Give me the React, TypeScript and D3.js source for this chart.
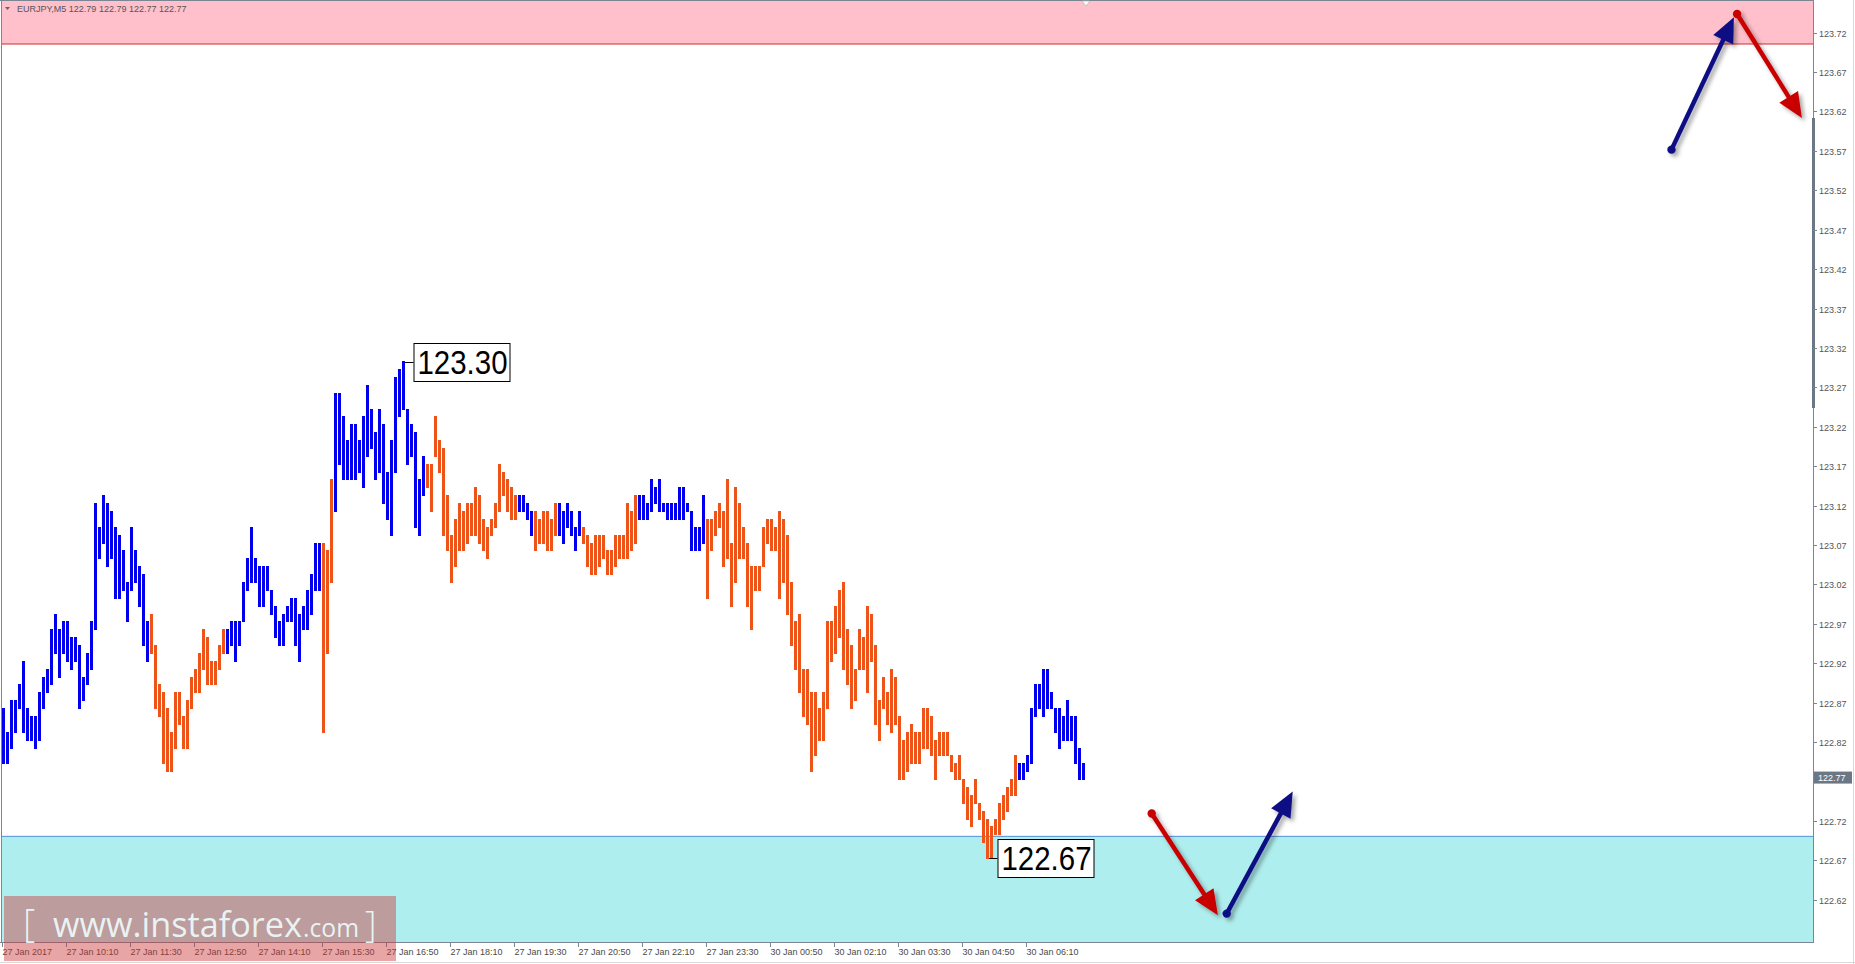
import React from 'react';
import * as d3 from 'd3';

const W = 1855;
const H = 964;

// ---- data (EURJPY M5, high / low per bar) ----
const highs = [
  122.86,122.83,122.87,122.87,122.89,122.92,122.86,122.85,122.85,122.88,
  122.90,122.91,122.96,122.98,122.96,122.97,122.97,122.95,122.95,122.94,
  122.90,122.93,122.97,123.12,123.09,123.13,123.12,123.11,123.09,123.08,
  123.06,123.02,123.09,123.06,123.04,123.03,122.97,122.98,122.94,122.89,
  122.88,122.86,122.83,122.88,122.88,122.85,122.87,122.90,122.91,122.93,
  122.96,122.95,122.92,122.92,122.94,122.96,122.96,122.97,122.97,122.97,
  123.02,123.05,123.09,123.05,123.04,123.04,123.04,123.01,122.99,122.97,
  122.98,122.99,123.00,123.00,122.98,122.99,123.01,123.03,123.07,123.07,
  123.07,123.06,123.15,123.26,123.26,123.23,123.20,123.22,123.22,123.20,
  123.23,123.27,123.24,123.21,123.24,123.22,123.16,123.20,123.28,123.29,
  123.30,123.24,123.22,123.21,123.15,123.18,123.17,123.17,123.23,123.20,
  123.19,123.13,123.08,123.10,123.12,123.11,123.12,123.12,123.14,123.13,
  123.10,123.09,123.10,123.12,123.17,123.16,123.15,123.14,123.13,123.13,
  123.13,123.12,123.11,123.11,123.10,123.11,123.11,123.10,123.12,123.12,
  123.11,123.12,123.11,123.09,123.11,123.09,123.08,123.07,123.08,123.08,
  123.08,123.06,123.06,123.08,123.08,123.08,123.12,123.11,123.13,123.13,
  123.13,123.12,123.15,123.14,123.15,123.12,123.12,123.12,123.12,123.14,
  123.14,123.12,123.11,123.09,123.09,123.13,123.10,123.10,123.11,123.12,
  123.11,123.15,123.07,123.14,123.12,123.09,123.07,123.04,123.04,123.04,
  123.09,123.10,123.10,123.09,123.11,123.10,123.08,123.02,122.97,122.98,
  122.91,122.91,122.88,122.88,122.86,122.88,122.97,122.97,122.99,123.01,
  123.02,122.96,122.94,122.91,122.96,122.95,122.99,122.98,122.94,122.87,
  122.90,122.88,122.91,122.90,122.85,122.82,122.83,122.84,122.83,122.83,
  122.86,122.86,122.85,122.82,122.83,122.83,122.83,122.80,122.79,122.80,
  122.77,122.76,122.75,122.77,122.74,122.73,122.72,122.71,122.72,122.74,
  122.75,122.76,122.77,122.80,122.79,122.79,122.80,122.86,122.89,122.89,
  122.91,122.91,122.88,122.86,122.86,122.85,122.87,122.85,122.85,122.81,
  122.79,
];

const lows = [
  122.79,122.79,122.81,122.83,122.86,122.83,122.82,122.82,122.81,122.82,
  122.86,122.88,122.89,122.93,122.90,122.93,122.92,122.91,122.92,122.86,
  122.87,122.89,122.91,122.96,123.05,123.07,123.04,123.05,123.00,123.00,
  123.01,122.97,123.01,123.02,122.99,122.94,122.92,122.93,122.86,122.85,
  122.79,122.78,122.78,122.81,122.84,122.81,122.81,122.86,122.88,122.88,
  122.91,122.89,122.89,122.89,122.91,122.93,122.93,122.94,122.92,122.94,
  122.97,123.01,123.02,123.02,122.99,122.99,123.01,122.98,122.95,122.94,
  122.94,122.97,122.97,122.94,122.92,122.96,122.96,122.98,123.01,123.01,
  122.83,122.93,123.02,123.11,123.17,123.15,123.15,123.15,123.15,123.16,
  123.14,123.18,123.19,123.15,123.16,123.12,123.10,123.08,123.16,123.23,
  123.24,123.17,123.18,123.09,123.08,123.13,123.14,123.11,123.18,123.16,
  123.08,123.06,123.02,123.04,123.06,123.06,123.07,123.08,123.08,123.07,
  123.06,123.05,123.08,123.09,123.11,123.13,123.11,123.10,123.10,123.11,
  123.11,123.10,123.08,123.06,123.07,123.07,123.06,123.06,123.08,123.08,
  123.07,123.09,123.08,123.06,123.08,123.07,123.04,123.03,123.03,123.04,
  123.05,123.03,123.03,123.04,123.05,123.05,123.05,123.06,123.07,123.10,
  123.10,123.10,123.11,123.12,123.11,123.11,123.10,123.10,123.10,123.10,
  123.10,123.11,123.06,123.06,123.06,123.07,123.00,123.06,123.08,123.09,
  123.04,123.05,122.99,123.02,123.05,123.05,122.99,122.96,123.01,123.01,
  123.04,123.07,123.06,123.06,123.00,123.02,122.98,122.94,122.91,122.88,
  122.85,122.84,122.78,122.80,122.82,122.82,122.86,122.92,122.93,122.95,
  122.91,122.89,122.86,122.87,122.91,122.91,122.88,122.92,122.84,122.82,
  122.86,122.84,122.83,122.84,122.77,122.77,122.78,122.79,122.79,122.79,
  122.81,122.81,122.80,122.77,122.80,122.80,122.80,122.78,122.77,122.77,
  122.74,122.72,122.71,122.74,122.72,122.69,122.67,122.67,122.70,122.70,
  122.72,122.73,122.75,122.75,122.77,122.77,122.78,122.79,122.85,122.86,
  122.85,122.86,122.86,122.83,122.81,122.82,122.82,122.82,122.79,122.77,
  122.77,
];

// wave colouring: [number of bars, direction]
const waveRuns: [number, 'up' | 'down'][] = [
  [37, 'up'], [19, 'down'], [24, 'up'], [3, 'down'], [23, 'up'], [23, 'down'],
  [4, 'up'], [6, 'down'], [6, 'up'], [14, 'down'], [17, 'up'], [78, 'down'], [17, 'up'],
];

const priceTicks = [
  123.72,123.67,123.62,123.57,123.52,123.47,123.42,123.37,123.32,123.27,123.22,123.17,
  123.12,123.07,123.02,122.97,122.92,122.87,122.82,122.77,122.72,122.67,122.62,
];

const timeLabels = [
  '27 Jan 2017','27 Jan 10:10','27 Jan 11:30','27 Jan 12:50','27 Jan 14:10','27 Jan 15:30',
  '27 Jan 16:50','27 Jan 18:10','27 Jan 19:30','27 Jan 20:50','27 Jan 22:10','27 Jan 23:30',
  '30 Jan 00:50','30 Jan 02:10','30 Jan 03:30','30 Jan 04:50','30 Jan 06:10',
];
const barsPerTimeLabel = 16;

// extreme labels: [bar index, price]
const extremes: [number, number][] = [[100, 123.30], [246, 122.67]];

// zones
const resistanceZone = [123.703, 124.0];
const supportZone = [122.50, 122.698];

// forecast arrows in (bar index, price)
const arrows = [
  { from: [417.0, 123.569], to: [432.6, 123.737], color: '#0c0c84' },
  { from: [433.4, 123.741], to: [449.6, 123.609], color: '#c80000' },
  { from: [287.05, 122.727], to: [303.6, 122.598], color: '#c80000' },
  { from: [305.8, 122.600], to: [322.3, 122.755], color: '#0c0c84' },
];

const headerText = 'EURJPY,M5  122.79 122.79 122.77 122.77';
const lastPrice = 122.77;

// ---- layout ----
const plotLeft = 1;
const plotTop = 1;
const plotRight = 1813;
const plotBottom = 942;

const UP = '#0000ee';
const DOWN = '#ee5418';
const AXIS = '#7b8694';
const TXT = '#4a4a4a';
const FONT = '"Liberation Sans", Arial, sans-serif';

export default function App() {
  const x = d3.scaleLinear().domain([0, 100]).range([3.5, 403.5]);
  const y = d3.scaleLinear().domain([122.62, 123.72]).range([30.6 + 1.1 * 788.4, 30.6]);

  const colors: string[] = [];
  waveRuns.forEach(([n, d]) => {
    for (let k = 0; k < n; k++) colors.push(d === 'up' ? UP : DOWN);
  });

  const clipY = (v: number) => Math.max(plotTop, Math.min(plotBottom, v));

  const arrowEls = arrows.map((a, i) => {
    const x0 = x(a.from[0]), y0 = y(a.from[1]);
    const x1 = x(a.to[0]), y1 = y(a.to[1]);
    const dx = x1 - x0, dy = y1 - y0;
    const len = Math.hypot(dx, dy);
    const ux = dx / len, uy = dy / len;
    const hl = 25, hw = 11;
    const bx = x1 - ux * hl, by = y1 - uy * hl;
    const px = -uy, py = ux;
    const head = `${x1},${y1} ${bx + px * hw},${by + py * hw} ${bx - px * hw},${by - py * hw}`;
    return (
      <g key={i} filter="url(#shadow)">
        <line x1={x0} y1={y0} x2={bx + ux * 2} y2={by + uy * 2} stroke={a.color} strokeWidth={4.5} />
        <polygon points={head} fill={a.color} />
        <circle cx={x0} cy={y0} r={4.2} fill={a.color} />
      </g>
    );
  });

  return (
    <svg width={W} height={H} style={{ position: 'absolute', left: 0, top: 0, background: '#fff' }}>
      <defs>
        <filter id="shadow" x="-30%" y="-30%" width="160%" height="160%">
          <feDropShadow dx="3" dy="3" stdDeviation="2" floodColor="#000" floodOpacity="0.35" />
        </filter>
        <clipPath id="plot">
          <rect x={plotLeft} y={plotTop} width={plotRight - plotLeft} height={plotBottom - plotTop} />
        </clipPath>
      </defs>
      <rect x={0} y={0} width={W} height={H} fill="#fff" />

      {/* zones */}
      <g clipPath="url(#plot)">
        <rect x={plotLeft} y={clipY(y(resistanceZone[1]))} width={plotRight - plotLeft}
          height={clipY(y(resistanceZone[0])) - clipY(y(resistanceZone[1]))} fill="#ffc0cb" />
        <line x1={plotLeft} x2={plotRight} y1={y(resistanceZone[0])} y2={y(resistanceZone[0])} stroke="#d42a2a" strokeWidth={1} />
        <rect x={plotLeft} y={clipY(y(supportZone[1]))} width={plotRight - plotLeft}
          height={clipY(y(supportZone[0])) - clipY(y(supportZone[1]))} fill="#afeeee" />
        <line x1={plotLeft} x2={plotRight} y1={y(supportZone[1])} y2={y(supportZone[1])} stroke="#4f8fd8" strokeWidth={1} />
      </g>

      {/* chart frame */}
      <line x1={plotLeft + 0.5} x2={plotLeft + 0.5} y1={0} y2={plotBottom} stroke={AXIS} />
      <line x1={0} x2={plotRight} y1={0.5} y2={0.5} stroke={AXIS} />
      <line x1={plotRight + 0.5} x2={plotRight + 0.5} y1={0} y2={plotBottom + 1} stroke={AXIS} />
      <line x1={0} x2={plotRight} y1={plotBottom + 0.5} y2={plotBottom + 0.5} stroke={AXIS} />
      <rect x={plotRight - 1} y={118} width={3} height={290} fill="#6c7886" />

      {/* header */}
      <polygon points="5,7 10,7 7.5,10" fill="#666" />
      <text x={17} y={9} fontFamily={FONT} fontSize={9} fill="#555" dominantBaseline="central">{headerText}</text>
      <polygon points="1082,1 1090,1 1086,6" fill="#fff" stroke="#b0b0b0" strokeWidth={0.7} />

      {/* bars */}
      <g shapeRendering="crispEdges">
        {highs.map((h, i) => (
          <rect key={i} x={x(i) - 1.5} y={y(h) - 0.5} width={3} height={y(lows[i]) - y(h) + 1} fill={colors[i]} />
        ))}
      </g>

      {/* extreme labels */}
      {extremes.map(([idx, p], i) => {
        const bx = x(idx) + 10;
        const cy = y(p);
        return (
          <g key={i}>
            <line x1={x(idx) + 1.5} x2={bx} y1={Math.round(cy) + 0.5} y2={Math.round(cy) + 0.5} stroke="#000" />
            <rect x={bx + 0.5} y={Math.round(cy) - 18.5} width={96} height={38} fill="#fff" stroke="#000" />
            <text x={bx + 49} y={Math.round(cy) + 12} fontFamily={FONT} fontSize={33} textAnchor="middle"
              textLength={90} lengthAdjust="spacingAndGlyphs" fill="#000">{p.toFixed(2)}</text>
          </g>
        );
      })}

      {/* arrows */}
      {arrowEls}

      {/* right price axis */}
      {priceTicks.map((p) => (
        <g key={p}>
          <line x1={plotRight} x2={plotRight + 4} y1={Math.round(y(p)) + 2.5} y2={Math.round(y(p)) + 2.5} stroke={AXIS} />
          {p !== lastPrice && (
            <text x={plotRight + 6} y={y(p) + 3} fontFamily={FONT} fontSize={9} fill="#555" dominantBaseline="central">{p.toFixed(2)}</text>
          )}
        </g>
      ))}
      <rect x={plotRight + 1} y={y(lastPrice) - 8} width={38} height={12} fill="#6b7785" />
      <text x={plotRight + 5} y={y(lastPrice) - 2} fontFamily={FONT} fontSize={9} fill="#fff" dominantBaseline="central">{lastPrice.toFixed(2)}</text>

      {/* time axis */}
      {timeLabels.map((t, i) => {
        const tx = Math.round(x(i * barsPerTimeLabel) - 1.5) + 0.5;
        return (
          <g key={t}>
            <line x1={tx} x2={tx} y1={plotBottom} y2={plotBottom + 5} stroke={AXIS} />
            <text x={tx} y={plotBottom + 10} fontFamily={FONT} fontSize={9} fill={TXT} dominantBaseline="central">{t}</text>
          </g>
        );
      })}

      {/* watermark */}
      <rect x={4} y={896} width={392} height={65} fill="rgba(205,55,55,0.45)" />
      <g fill="rgba(238,252,252,0.92)" fontFamily='"Open Sans", sans-serif'>
        <text x={23} y={937} fontSize={38} fontWeight={300}>[</text>
        <text x={53} y={937} fontSize={34} textLength={249} lengthAdjust="spacingAndGlyphs">www.instaforex</text>
        <text x={303} y={937} fontSize={26} textLength={56} lengthAdjust="spacingAndGlyphs">.com</text>
        <text x={365} y={937} fontSize={36} fontWeight={300}>]</text>
      </g>

      {/* window border */}
      <line x1={W - 1.5} x2={W - 1.5} y1={0} y2={H} stroke="#d9d9d9" />
      <line x1={0} x2={W} y1={H - 1.5} y2={H - 1.5} stroke="#d9d9d9" />
    </svg>
  );
}
